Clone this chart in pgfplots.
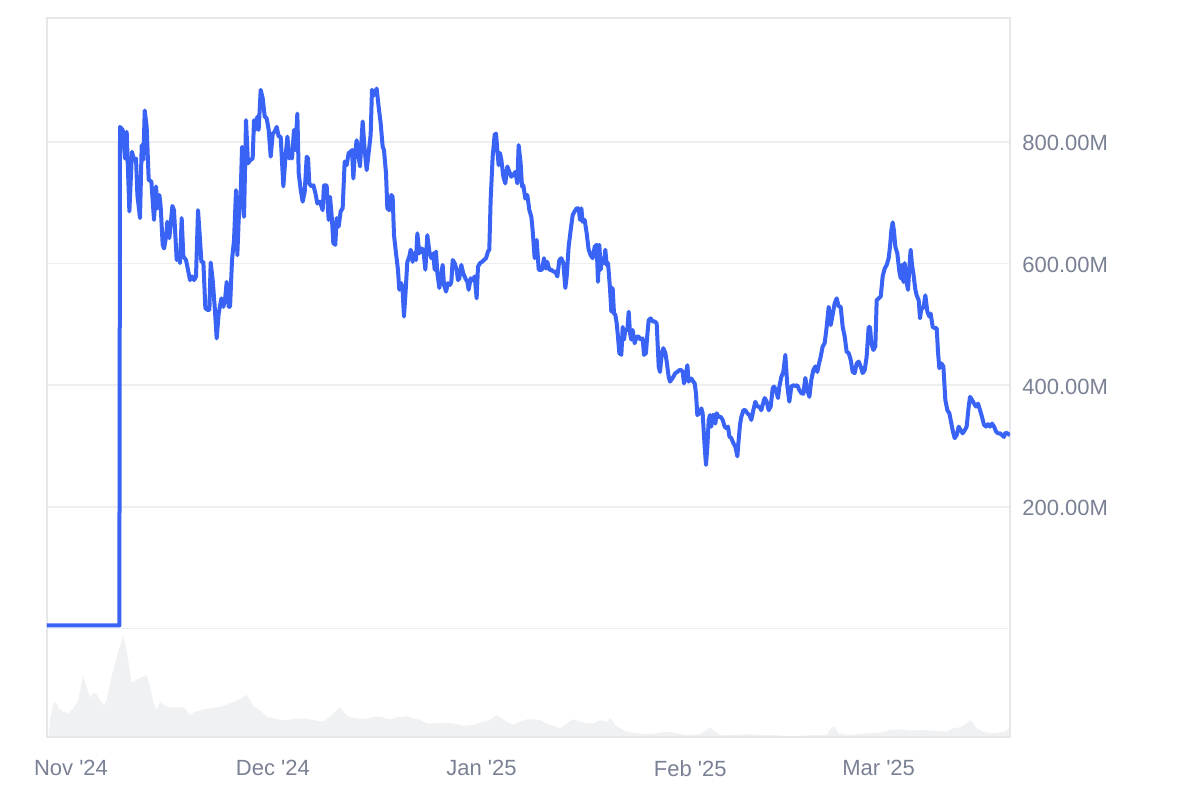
\documentclass[border=0pt]{standalone}
\usepackage{fontspec}
\setmainfont{Liberation Sans}
\usepackage{pgfplots}
\usepackage{pgfplotstable}
\pgfplotsset{compat=1.18}

\definecolor{lineblue}{RGB}{57,99,245}
\definecolor{framegray}{RGB}{230,231,234}
\definecolor{gridgray}{RGB}{237,238,241}
\definecolor{labelgray}{RGB}{122,129,148}
\definecolor{volfill}{RGB}{239,241,243}

\begin{document}
% x = days since 1 Nov 2024, price in millions
\pgfplotstableread{
day price
-3.57 5
7.18 5
7.28 825
7.68 820
8.02 773
8.27 817
8.67 686
9.06 784
9.36 771
9.66 773
9.86 713
10.25 675
10.50 795
10.75 771
10.95 852
11.24 825
11.54 738
11.94 735
12.33 672
12.63 727
12.83 691
13.13 713
13.32 694
13.62 631
13.82 625
14.12 644
14.31 669
14.61 642
15.06 695
15.30 688
15.70 606
15.95 617
16.20 601
16.44 675
16.69 612
17.09 606
17.38 590
17.68 573
17.98 579
18.28 573
18.57 579
18.87 688
19.17 639
19.37 603
19.66 603
19.96 527
20.26 524
20.56 524
20.75 602
21.05 573
21.35 529
21.64 477
21.94 518
22.34 543
22.64 529
22.93 546
23.13 570
23.43 529
23.63 529
23.92 606
24.22 639
24.52 721
24.71 614
24.91 672
25.21 716
25.41 792
25.71 677
26.00 836
26.30 765
26.60 770
26.99 773
27.19 836
27.39 820
27.69 842
27.88 820
28.18 886
28.48 872
28.78 842
29.07 839
29.37 820
29.67 776
29.97 814
30.26 817
30.56 825
30.86 809
31.15 809
31.55 727
31.85 773
32.15 809
32.44 773
32.64 779
32.84 773
33.13 820
33.33 787
33.63 847
33.83 749
34.13 721
34.42 702
34.72 718
35.02 776
35.22 773
35.41 732
35.71 727
36.01 729
36.31 716
36.60 699
37.00 702
37.39 688
37.59 729
37.98 729
38.28 672
38.48 710
38.78 672
38.97 634
39.27 631
39.47 675
39.77 661
40.06 686
40.36 691
40.66 768
40.96 762
41.25 782
41.55 784
41.75 787
41.95 740
42.14 776
42.44 803
42.74 776
42.94 760
43.33 834
43.63 787
43.93 754
44.22 782
44.52 812
44.72 886
45.02 877
45.41 888
45.71 858
46.01 831
46.31 792
46.50 787
46.80 749
47.00 691
47.30 688
47.59 713
47.79 710
47.99 647
48.29 617
48.58 590
48.78 557
49.08 568
49.28 554
49.47 513
49.67 546
49.97 603
50.27 612
50.47 623
50.76 603
50.96 617
51.26 606
51.46 650
51.75 617
52.05 625
52.35 623
52.65 590
52.94 647
53.24 620
53.54 609
53.83 617
54.03 590
54.23 620
54.43 584
54.73 560
55.02 584
55.22 598
55.42 565
55.72 554
56.01 568
56.31 565
56.51 570
56.71 606
57.00 601
57.30 590
57.50 573
57.70 576
57.99 598
58.29 584
58.59 576
58.89 570
59.08 557
59.38 576
59.68 573
59.98 579
60.27 543
60.47 595
60.77 601
61.06 603
61.36 606
61.66 609
61.96 620
62.15 623
62.35 705
62.65 776
62.95 812
63.15 814
63.34 787
63.54 762
63.74 782
63.94 771
64.24 743
64.53 732
64.83 760
65.13 751
65.42 743
65.72 746
66.02 751
66.32 732
66.51 795
66.81 765
67.01 727
67.21 729
67.50 707
67.80 713
68.10 688
68.40 677
68.59 655
68.89 609
69.19 639
69.49 590
69.98 590
70.28 609
70.57 592
70.77 603
71.07 590
71.37 590
71.66 587
71.96 587
72.26 579
72.56 606
72.85 609
73.15 601
73.45 560
73.65 579
73.94 628
74.24 655
74.54 680
74.83 686
75.13 691
75.43 691
75.63 672
75.83 691
76.02 669
76.32 672
76.62 650
76.91 623
77.21 614
77.51 609
77.81 628
78.10 631
78.30 570
78.50 631
78.70 590
78.90 609
79.19 601
79.39 623
79.59 598
79.79 601
80.08 560
80.28 521
80.48 560
80.68 518
80.88 516
81.08 502
81.27 480
81.47 453
81.77 450
81.97 496
82.16 475
82.36 491
82.66 491
82.86 521
83.06 486
83.25 475
83.45 491
83.75 469
84.05 480
84.34 480
84.64 475
84.94 477
85.14 450
85.43 453
85.63 483
85.83 507
86.13 510
86.42 505
86.72 505
87.02 502
87.32 431
87.51 422
87.81 455
88.01 461
88.31 453
88.51 439
88.80 414
89.00 406
89.20 409
89.50 414
89.79 420
90.09 422
90.39 425
90.68 425
90.88 422
91.08 403
91.38 420
91.58 433
91.77 406
91.97 409
92.17 411
92.47 406
92.67 403
92.86 387
93.06 351
93.36 354
93.66 362
93.85 354
94.15 299
94.35 269
94.55 299
94.75 343
94.94 351
95.14 332
95.34 351
95.54 351
95.74 337
95.93 354
96.23 348
96.53 348
96.83 343
97.12 332
97.42 329
97.62 332
97.82 316
98.11 313
98.41 305
98.71 299
99.01 283
99.20 310
99.40 335
99.60 348
99.90 359
100.19 359
100.49 354
100.79 351
101.09 343
101.38 359
101.68 373
101.98 365
102.27 365
102.57 359
102.77 368
103.07 379
103.37 373
103.66 359
103.96 365
104.26 395
104.46 398
104.75 392
105.05 379
105.25 398
105.55 414
105.84 422
106.14 450
106.44 398
106.73 373
107.03 398
107.33 400
107.63 399
107.92 400
108.22 392
108.52 387
108.81 386
109.11 412
109.41 392
109.71 381
110.00 409
110.30 425
110.60 431
110.89 422
111.09 433
111.39 447
111.69 464
111.98 469
112.28 496
112.58 529
112.88 499
113.17 516
113.47 535
113.77 543
114.06 530
114.36 529
114.66 496
114.96 480
115.25 455
115.55 453
115.85 442
116.14 422
116.44 420
116.74 436
117.04 439
117.33 431
117.63 420
117.93 425
118.22 447
118.52 496
118.72 496
118.92 469
119.22 458
119.51 464
119.71 540
120.01 543
120.31 546
120.60 579
120.90 592
121.20 598
121.49 609
121.69 628
121.89 655
122.09 668
122.29 653
122.48 628
122.78 617
123.08 587
123.28 576
123.48 598
123.67 570
123.87 601
124.07 573
124.37 557
124.57 595
124.76 623
124.96 598
125.16 584
125.46 557
125.65 548
125.95 540
126.15 510
126.35 527
126.65 527
126.94 548
127.24 521
127.54 513
127.73 518
128.03 496
128.33 494
128.63 494
128.82 455
129.02 428
129.32 436
129.62 431
129.91 376
130.21 359
130.51 354
130.81 337
131.00 326
131.30 313
131.60 318
131.90 332
132.19 326
132.49 321
132.79 326
133.08 332
133.38 365
133.58 381
133.88 376
134.17 370
134.47 365
134.77 370
135.07 359
135.36 348
135.66 335
135.96 332
136.25 336
136.55 332
136.85 337
137.15 332
137.44 324
137.74 321
138.04 321
138.33 318
138.63 315
138.83 322
139.13 321
139.52 318
}\price

% traded volume, relative units
\pgfplotstableread{
day vol
-3.57 0
-3.37 0
-3.12 17
-2.62 33.7
-2.23 35.3
-1.88 28.7
-1.14 25.3
-0.40 23.7
0.35 28.7
1.09 37
1.59 55.3
1.83 62
2.23 52
2.82 38.7
3.22 43.7
3.71 43.7
4.31 37
4.90 32
5.30 37
5.80 53.7
6.29 67
6.88 82
7.38 93.7
7.78 101
8.17 90.3
8.57 73.7
8.96 55.3
9.36 55.3
10.01 58.7
10.75 60.3
11.24 62
11.74 50.3
12.23 35.3
12.73 27
13.22 35.3
13.82 32
14.46 29.7
15.21 29.7
16.20 29.7
16.94 28.7
17.68 22
18.43 25.3
19.42 27
20.65 28.7
22.14 30.3
23.63 33.7
24.86 37
25.61 40.3
26.10 42
26.60 37
27.09 30.3
28.08 27
29.07 20.3
30.06 18.7
31.06 17
32.05 17
33.04 18
34.52 18.7
36.01 17
37.49 15.3
38.48 20.3
39.23 25.3
39.97 29.7
40.47 25.3
41.21 20.3
42.45 18.7
43.93 18
44.92 20.3
45.91 20.3
47.40 17.7
48.39 19.7
49.38 20.3
49.88 21
50.87 18.7
51.86 17
52.85 13.7
54.33 13.7
55.82 14.3
57.31 13
58.30 11
59.78 12
61.27 15.3
62.26 17
63.25 22
63.99 18.7
64.73 15.3
65.73 12
66.72 15.3
67.71 17.7
68.70 17.7
69.69 17
70.68 13.7
71.67 11
72.66 8.7
73.65 13.7
74.64 17.7
75.64 15.3
76.63 13.7
77.62 13.7
78.61 17
79.60 15.3
80.19 18.7
80.84 12
81.58 8.7
82.57 5.3
84.06 3.7
85.54 3
87.03 3.7
88.51 5.3
90.00 3.7
91.49 2
93.47 2.7
94.46 7
94.95 9.7
95.45 7
96.44 2
98.42 2
100.40 2.7
102.38 2
104.36 2
106.34 1
108.33 1
110.31 2
112.29 2
113.03 10.3
113.53 10.3
114.02 3.7
115.26 2
116.75 2.7
118.23 3.7
120.21 4.3
121.70 7
123.18 7.7
124.67 6.3
126.16 7
128.14 6.3
130.12 5.3
131.11 8.7
132.10 9.7
133.09 13.7
133.59 17
134.08 13.7
134.58 8.7
135.57 5.3
137.05 3.7
138.54 5.3
139.52 8.7
}\volume

\begin{tikzpicture}
\path[use as bounding box] (0,0) rectangle (600pt,400pt);

% volume band under the price panel
\begin{axis}[
    at={(23.5pt,31.5pt)}, anchor=south west,
    scale only axis, width=481.5pt, height=54.25pt,
    xmin=-3.57, xmax=139.52, ymin=0, ymax=108.5,
    axis lines=none, ticks=none,
]
\addplot[fill=volfill, draw=none] table[x=day, y=vol] {\volume} \closedcycle;
\end{axis}

% price panel
\begin{axis}[
    at={(23.5pt,31.5pt)}, anchor=south west,
    scale only axis, width=481.5pt, height=359.5pt,
    xmin=-3.57, xmax=139.52, ymin=-178.5, ymax=1004.1,
    axis line style={draw=framegray, line width=0.8pt},
    major tick length=0pt,
    ytick={0,200,400,600,800},
    yticklabels={,200.00M,400.00M,600.00M,800.00M},
    yticklabel pos=right,
    ymajorgrids, grid style={draw=gridgray, line width=0.8pt},
    xtick={0,30,61,92,120},
    xticklabels={Nov \textquotesingle24, Dec \textquotesingle24, Jan \textquotesingle25, Feb \textquotesingle25, Mar \textquotesingle25},
    tick label style={font=\fontsize{11}{13}\selectfont, text=labelgray},
    yticklabel style={anchor=west, inner sep=0pt, xshift=6pt, yshift=-0.6pt},
    xticklabel style={anchor=north, inner sep=0pt, yshift=-11.5pt},
]
\addplot[lineblue, line width=2pt, line join=round, mark=none] table[x=day, y=price] {\price};
\end{axis}
\end{tikzpicture}
\end{document}
